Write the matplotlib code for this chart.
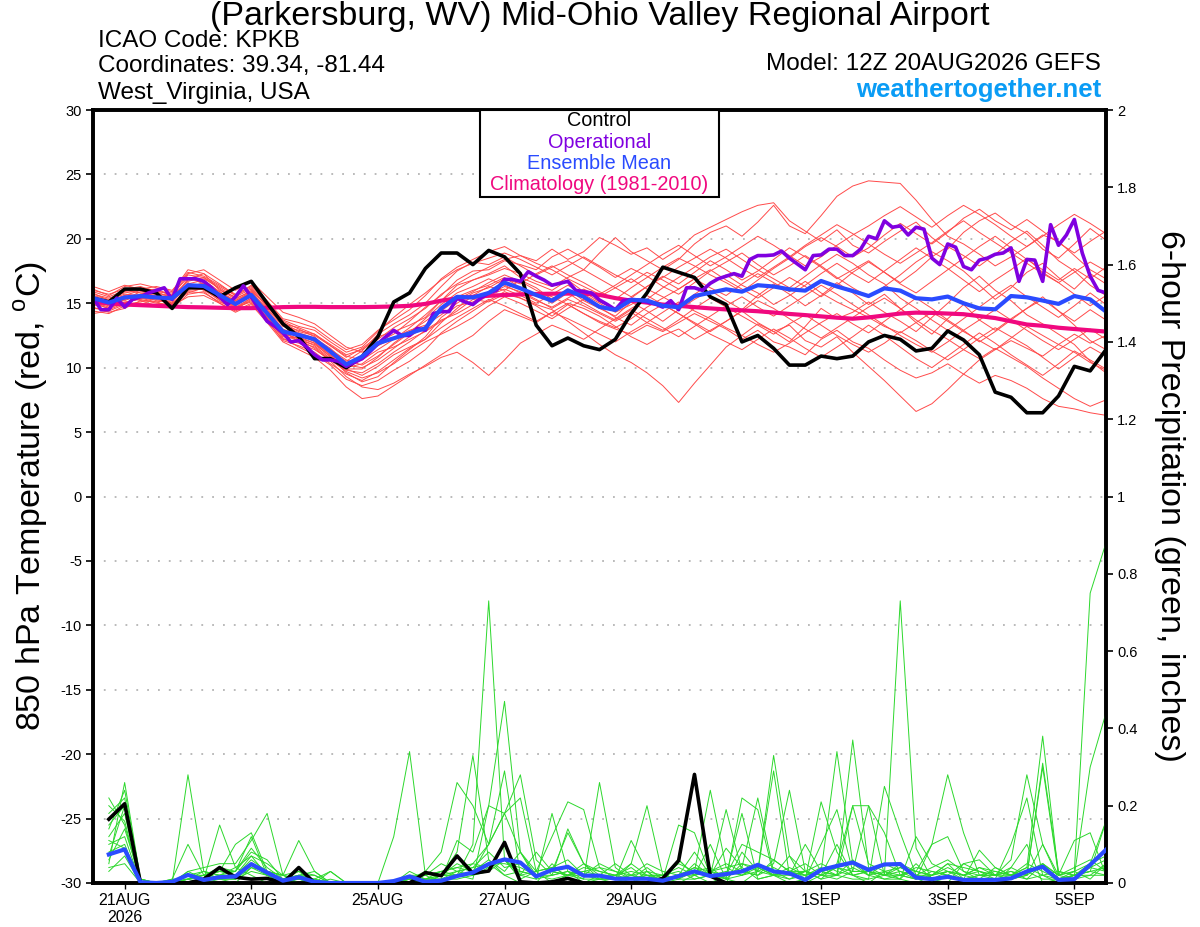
import numpy as np
import matplotlib
matplotlib.use("Agg")
import matplotlib.pyplot as plt
from matplotlib.patches import Rectangle

plt.rcParams['font.family'] = ['Liberation Sans', 'DejaVu Sans']
plt.rcParams['mathtext.fontset'] = 'custom'
plt.rcParams['mathtext.rm'] = 'Liberation Sans'

# time axis: hours after 12Z 20AUG2026
hours_6h = np.arange(0, 385, 6)
hours_3h = np.arange(0, 385, 3)
hours_pcp = hours_6h[1:]

tick_hours = [12, 60, 108, 156, 204, 276, 324, 372]
tick_labels = ['21AUG\n2026', '23AUG', '25AUG', '27AUG', '29AUG', '1SEP', '3SEP', '5SEP']

# 850 hPa temperature (C)
control_t = [15.4, 15.1, 16.1, 16.1, 15.8, 14.6, 16.2, 16.2, 15.5, 16.2, 16.7,
             15.0, 13.4, 12.4, 10.7, 10.7, 10.0, 10.85, 12.4, 15.1, 15.8,
             17.7, 18.9, 18.9, 18.0, 19.1, 18.6, 17.3, 13.3, 11.7, 12.3, 11.7, 11.4,
             12.2, 14.2, 15.8, 17.8, 17.4, 17.0, 15.5, 14.9, 12.0, 12.5, 11.5, 10.2, 10.2, 10.9, 10.7, 10.9,
             12.0, 12.5, 12.2, 11.3, 11.5, 12.85, 12.15, 11.0, 8.1, 7.7, 6.5, 6.5, 7.8, 10.1, 9.75, 11.4]

mean_t = [15.4, 15.05, 15.45, 15.56, 15.45, 15.38, 16.4, 16.34, 15.64, 14.94, 15.64,
          14.22, 12.8, 12.54, 12.2, 11.25, 10.25, 10.86, 11.9, 12.28, 12.67,
          13.06, 14.6, 15.5, 15.45, 15.8, 16.6, 16.16, 15.64, 15.2, 16.0, 15.5, 14.72,
          14.48, 15.26, 15.21, 14.8, 14.69, 15.56, 15.82, 16.08, 15.9, 16.4, 16.3, 16.08, 15.98, 16.73, 16.3, 15.95,
          15.56, 16.16, 15.98, 15.39, 15.3, 15.52, 15.0, 14.6, 14.53, 15.56, 15.46, 15.21, 14.95, 15.56, 15.3, 14.35]

clim_t = [15.1, 15.0, 14.9, 14.85, 14.8, 14.75, 14.7, 14.68, 14.65, 14.62, 14.62,
          14.65, 14.7, 14.72, 14.72, 14.7, 14.7, 14.7, 14.72, 14.75, 14.8,
          14.95, 15.2, 15.38, 15.5, 15.58, 15.64, 15.68, 15.72, 15.74, 15.75, 15.75, 15.65,
          15.4, 15.2, 15.05, 14.9, 14.8, 14.7, 14.6, 14.52, 14.45, 14.38, 14.28, 14.17, 14.08, 13.98, 13.88, 13.8,
          13.9, 14.05, 14.2, 14.27, 14.25, 14.2, 14.15, 14.0, 13.85, 13.6, 13.35, 13.25, 13.1, 13.0, 12.9, 12.8]

# operational run, 3-hourly
oper_t = [15.46, 14.5, 14.5, 15.4, 14.7, 15.3, 15.5, 15.8, 16.0, 16.2, 15.3, 16.9, 16.9, 16.9, 16.7, 16.2,
          15.5, 14.9, 15.5, 16.35, 15.5, 14.5, 13.6, 13.2, 12.7, 12.0, 12.1, 11.6, 11.0, 10.6, 10.6, 10.5, 10.1,
          10.4, 10.7, 11.25, 11.85, 12.4, 12.9, 12.5, 12.5, 13.05, 12.9, 14.2, 14.35, 14.35, 15.4, 15.1,
          14.9, 15.4, 15.8, 16.0, 16.85, 16.85, 16.7, 17.45, 17.1, 16.8, 16.4, 16.55, 16.7, 16.0, 15.9, 15.8, 15.25,
          14.9, 14.5, 15.2, 15.3, 15.25, 15.1, 14.95, 14.7, 15.2, 14.5, 16.2, 16.2, 16.0, 16.55, 16.9, 17.1,
          17.3, 17.1, 18.4, 18.7, 18.7, 18.75, 19.05, 18.5, 18.05, 17.6, 18.7, 18.75, 19.2, 19.2, 18.7, 18.7,
          19.2, 20.2, 20.0, 21.4, 20.9, 21.0, 20.3, 20.9, 20.75, 18.5, 18.0, 19.6, 19.35, 17.85, 17.6, 18.35,
          18.5, 18.8, 18.9, 19.3, 16.7, 18.4, 18.35, 16.7, 21.1, 19.5, 20.3, 21.5, 18.9, 17.1, 16.0, 15.8]

member_t = [
    [15.8, 15.2, 15.9, 16.2, 16.0, 15.6, 17.2, 17.0, 16.1, 15.3, 16.0,
     14.8, 13.6, 13.0, 12.4, 11.2, 10.5, 11.3, 12.6, 13.4, 14.1,
     15.0, 16.3, 17.5, 18.2, 18.0, 18.6, 17.9, 17.2, 17.8, 18.3, 17.6, 18.9,
     20.1, 19.0, 18.3, 17.6, 18.4, 19.6, 20.5, 21.0, 20.2, 21.3, 22.6, 21.0, 20.4, 21.8, 23.3, 24.1,
     24.5, 24.4, 24.3, 23.0, 21.5, 20.2, 19.6, 18.8, 17.9, 18.6, 19.4, 20.3, 19.8, 18.7, 17.6, 16.9],
    [15.0, 14.6, 15.1, 15.3, 15.0, 14.9, 16.1, 16.3, 15.4, 14.6, 15.2,
     13.8, 12.3, 11.6, 11.0, 10.2, 9.1, 8.6, 9.0, 9.8, 10.5,
     11.4, 12.7, 13.6, 14.4, 15.2, 15.9, 15.4, 14.8, 14.0, 14.9, 14.2, 13.5,
     13.0, 12.6, 13.3, 12.8, 13.5, 14.2, 13.6, 13.0, 12.2, 12.9, 12.0, 11.6, 11.0, 12.2, 12.9, 12.0,
     11.5, 10.6, 9.8, 9.2, 9.6, 10.3, 9.5, 8.8, 9.4, 9.0, 8.4, 7.6, 7.0, 6.8, 6.5, 6.3],
    [14.4, 14.2, 14.8, 15.0, 14.9, 14.6, 15.7, 15.9, 15.0, 14.3, 14.9,
     13.5, 12.0, 11.4, 10.8, 9.8, 8.5, 7.6, 7.8, 8.6, 9.4,
     10.2, 11.0, 11.8, 12.5, 13.6, 14.5, 14.0, 13.5, 14.3, 15.0, 14.6, 14.0,
     13.2, 12.4, 11.8, 12.5, 13.0, 12.2, 12.9, 13.6, 14.4, 13.5, 12.8, 13.3, 12.1, 11.6, 12.4, 11.2,
     10.1, 9.0, 7.8, 6.6, 7.2, 8.3, 9.5, 10.6, 11.4, 12.1, 11.5, 10.9, 11.8, 12.6, 11.9, 12.5],
    [15.6, 15.3, 15.7, 15.6, 15.2, 15.1, 16.6, 16.0, 15.3, 14.8, 15.6,
     14.0, 12.5, 12.1, 11.8, 10.9, 10.0, 10.3, 11.2, 11.6, 12.2,
     12.8, 13.6, 14.4, 15.3, 15.1, 15.7, 15.4, 14.9, 14.5, 13.6, 12.7, 11.8,
     11.0, 10.4, 9.6, 8.6, 7.3, 8.8, 10.2, 11.6, 12.5, 13.4, 12.8, 12.0, 13.2, 14.6, 13.8, 14.3,
     15.1, 14.3, 13.6, 12.8, 13.9, 15.0, 16.2, 17.1, 16.0, 15.2, 14.1, 13.4, 12.6, 11.8, 10.5, 9.6],
    [16.1, 15.6, 16.3, 16.5, 16.2, 15.9, 17.6, 17.3, 16.5, 15.6, 16.4,
     15.2, 13.8, 13.5, 13.1, 12.2, 11.4, 11.8, 12.9, 13.7, 14.5,
     15.6, 16.9, 17.8, 18.4, 19.0, 19.4, 18.7, 18.3, 19.2, 18.4, 19.0, 20.1,
     19.5, 18.8, 19.3, 18.4, 19.2, 20.3, 20.9, 21.5, 22.1, 22.6, 22.8, 21.4, 20.6, 19.8, 20.7, 19.5,
     18.9, 19.8, 20.6, 21.3, 20.1, 19.2, 20.5, 21.4, 22.0, 21.1, 20.4, 19.2, 18.5, 19.6, 20.8, 19.9],
    [14.8, 14.9, 15.4, 15.7, 15.8, 15.5, 16.5, 16.8, 15.9, 15.1, 15.8,
     14.6, 13.2, 12.9, 12.6, 11.7, 10.8, 11.5, 12.4, 12.8, 13.3,
     13.9, 15.2, 16.4, 16.8, 17.3, 17.9, 17.0, 16.5, 16.0, 16.8, 15.9, 15.1,
     14.6, 15.4, 16.3, 17.1, 16.5, 17.4, 18.3, 17.6, 16.8, 17.5, 18.4, 19.3, 18.6, 17.8, 16.9, 17.6,
     18.3, 17.4, 16.6, 17.5, 18.6, 19.4, 18.7, 17.9, 18.8, 19.8, 20.6, 19.5, 18.3, 17.5, 16.4, 15.6],
    [15.2, 14.8, 15.3, 15.9, 15.7, 15.2, 16.2, 16.6, 15.8, 15.0, 15.7,
     14.3, 12.9, 12.6, 12.0, 11.0, 9.9, 9.4, 10.1, 11.0, 11.6,
     12.2, 13.5, 14.6, 15.6, 16.3, 16.0, 16.8, 16.2, 15.3, 16.1, 15.2, 14.6,
     14.0, 15.1, 14.4, 13.6, 14.5, 15.3, 16.0, 15.2, 14.5, 15.6, 16.5, 15.7, 14.8, 15.6, 16.6, 15.8,
     14.9, 15.7, 14.6, 13.5, 12.6, 13.8, 14.9, 13.7, 12.9, 13.8, 14.6, 15.5, 14.4, 13.3, 12.1, 11.4],
    [15.9, 15.5, 16.0, 15.8, 15.6, 15.7, 17.0, 16.5, 15.7, 15.2, 15.9,
     14.9, 13.3, 12.7, 12.3, 11.5, 10.4, 10.9, 12.0, 12.6, 13.6,
     14.7, 15.6, 16.8, 17.5, 17.6, 18.3, 18.0, 17.6, 18.6, 19.2, 18.5, 17.8,
     17.0, 17.7, 17.1, 16.3, 15.7, 16.6, 17.5, 18.2, 18.9, 18.0, 17.2, 17.9, 18.7, 17.9, 17.0, 16.2,
     15.5, 16.3, 17.2, 18.2, 19.0, 18.3, 17.5, 16.4, 15.3, 16.2, 17.4, 18.1, 17.0, 16.1, 17.3, 16.5],
    [14.6, 14.5, 15.0, 15.4, 15.3, 15.0, 16.0, 16.1, 15.2, 14.5, 15.3,
     13.6, 12.2, 11.9, 11.4, 10.6, 9.7, 9.2, 9.6, 10.3, 11.2,
     12.0, 12.6, 13.2, 13.9, 14.8, 15.5, 15.0, 14.4, 13.8, 14.6, 15.3, 14.7,
     13.9, 13.3, 14.2, 14.9, 14.2, 13.4, 12.6, 12.0, 11.4, 12.2, 13.0, 12.3, 11.5, 10.8, 11.6, 12.4,
     13.3, 12.5, 11.6, 10.7, 10.0, 10.9, 11.8, 12.7, 11.9, 11.0, 10.2, 9.4, 10.3, 11.3, 10.6, 9.9],
    [15.3, 14.9, 15.5, 15.4, 15.1, 15.3, 16.3, 16.2, 15.5, 14.9, 15.5,
     14.1, 12.7, 12.2, 11.5, 10.5, 9.3, 8.5, 8.3, 8.8, 9.5,
     10.1, 10.8, 11.2, 10.4, 9.4, 10.6, 11.9, 12.6, 13.3, 12.8, 12.2, 13.0,
     13.8, 14.6, 15.3, 16.2, 17.0, 17.8, 18.6, 19.2, 18.4, 17.6, 16.9, 16.2, 17.1, 18.0, 18.8, 18.1,
     17.2, 16.5, 15.4, 14.6, 13.7, 12.9, 13.8, 14.7, 15.6, 16.4, 15.5, 14.7, 13.9, 14.8, 15.8, 14.9],
    [16.0, 15.7, 16.1, 16.3, 15.9, 15.8, 17.3, 17.6, 16.8, 16.0, 16.7,
     15.5, 14.3, 13.9, 13.4, 12.5, 11.6, 11.2, 11.7, 12.3, 12.9,
     13.3, 14.1, 15.0, 15.8, 16.2, 16.9, 16.5, 17.3, 17.9, 17.2, 16.6, 15.9,
     15.3, 16.2, 17.0, 17.8, 18.5, 17.9, 17.2, 16.6, 15.9, 16.8, 17.7, 18.5, 19.4, 20.1, 19.4, 18.6,
     19.3, 20.3, 21.2, 20.4, 19.6, 20.5, 21.6, 22.3, 21.4, 20.7, 21.5, 20.6, 19.7, 18.9, 19.8, 20.6],
    [14.9, 15.1, 15.6, 15.2, 14.8, 15.0, 15.8, 16.2, 15.6, 14.7, 15.1,
     13.9, 12.6, 12.3, 11.9, 11.0, 10.2, 10.0, 10.6, 11.5, 12.4,
     13.2, 14.4, 15.3, 15.9, 16.6, 17.2, 16.7, 16.0, 15.5, 14.9, 14.2, 13.6,
     13.1, 13.8, 14.7, 15.4, 16.1, 16.9, 16.2, 15.6, 16.5, 17.3, 16.6, 15.9, 16.7, 15.8, 15.1, 14.5,
     13.9, 13.2, 12.7, 13.5, 14.3, 13.6, 12.8, 12.1, 11.4, 12.3, 13.2, 12.5, 11.8, 11.2, 10.4, 9.8],
    [15.5, 15.0, 15.2, 15.7, 15.9, 15.4, 16.8, 16.9, 16.2, 15.4, 15.9,
     14.5, 13.0, 12.5, 12.2, 11.4, 10.6, 10.2, 10.9, 11.8, 12.7,
     13.8, 14.9, 15.8, 16.3, 16.9, 16.4, 15.8, 15.2, 14.7, 15.4, 16.1, 15.5,
     16.2, 16.9, 16.1, 15.5, 14.8, 15.7, 16.5, 17.2, 16.4, 15.8, 14.9, 15.6, 16.4, 17.3, 18.1, 17.3,
     16.6, 17.5, 18.4, 19.3, 18.5, 17.7, 16.8, 15.9, 16.8, 17.6, 18.5, 17.4, 16.6, 15.7, 14.8, 15.6],
    [15.1, 14.7, 15.0, 15.5, 15.6, 15.3, 16.4, 16.5, 15.9, 15.2, 15.8,
     14.4, 12.8, 12.4, 11.9, 10.8, 9.6, 8.9, 9.3, 10.4, 11.4,
     12.4, 13.9, 14.8, 15.1, 15.7, 16.3, 15.9, 15.3, 14.6, 15.3, 14.8, 14.2,
     13.6, 14.3, 13.5, 12.9, 13.7, 14.6, 15.4, 14.7, 14.0, 13.3, 12.6, 13.4, 14.1, 13.3, 12.5, 11.8,
     11.2, 11.9, 12.8, 12.1, 11.3, 10.6, 11.4, 12.3, 13.1, 12.4, 11.7, 10.8, 9.9, 10.8, 11.6, 10.9],
    [16.3, 15.9, 16.4, 16.1, 16.3, 16.0, 17.4, 17.1, 16.4, 15.7, 16.3,
     15.0, 13.7, 13.2, 12.9, 12.0, 11.2, 11.6, 12.8, 13.9, 14.9,
     15.8, 16.8, 17.6, 18.1, 18.5, 18.9, 18.4, 17.8, 17.2, 17.9, 18.6, 17.9,
     17.2, 16.6, 17.4, 16.8, 16.1, 16.9, 17.6, 16.8, 16.1, 15.4, 16.2, 17.0, 16.3, 15.5, 16.4, 17.4,
     18.2, 17.4, 16.5, 15.8, 16.7, 17.6, 18.5, 19.4, 20.2, 19.3, 18.4, 17.6, 16.8, 17.7, 16.9, 17.8],
    [14.2, 14.4, 14.9, 15.1, 15.4, 14.8, 15.5, 15.6, 15.0, 14.4, 15.0,
     13.7, 12.1, 11.7, 11.2, 10.3, 9.5, 9.0, 9.7, 10.6, 11.5,
     12.2, 13.1, 13.9, 14.6, 15.3, 14.8, 14.2, 13.6, 14.3, 13.8, 13.2, 12.6,
     12.0, 12.8, 13.5, 14.3, 15.1, 14.4, 13.8, 13.1, 12.5, 11.8, 11.2, 11.9, 12.7, 13.5, 14.2, 13.4,
     12.7, 13.6, 14.5, 15.4, 14.6, 13.7, 12.9, 12.0, 12.8, 13.7, 14.6, 15.3, 14.4, 13.6, 14.5, 13.7],
    [15.7, 15.4, 15.8, 16.0, 15.5, 15.2, 16.9, 17.3, 16.0, 15.5, 16.1,
     14.7, 13.4, 13.1, 12.6, 11.8, 11.0, 11.4, 12.2, 13.1, 13.8,
     14.6, 15.7, 16.5, 17.2, 17.8, 18.4, 18.7, 18.1, 17.6, 16.9, 16.3, 15.7,
     16.4, 17.2, 18.0, 18.8, 19.5, 18.7, 17.9, 18.6, 19.4, 20.2, 19.5, 18.7, 17.9, 18.6, 19.5, 20.3,
     21.0, 21.8, 22.5, 21.7, 20.9, 21.8, 22.6, 21.9, 21.1, 20.2, 19.4, 20.2, 21.1, 21.9, 21.2, 20.4],
    [14.7, 14.3, 14.6, 15.2, 15.1, 14.7, 15.9, 15.8, 15.1, 14.6, 15.4,
     14.2, 12.9, 12.0, 11.6, 10.6, 9.8, 9.6, 10.3, 11.2, 12.0,
     12.9, 13.7, 14.2, 14.9, 15.6, 16.1, 15.6, 15.0, 15.7, 16.4, 15.7, 15.0,
     14.3, 14.9, 15.6, 14.9, 14.2, 13.5, 12.8, 13.6, 14.4, 15.2, 14.6, 13.8, 13.0, 12.3, 13.1, 13.9,
     14.7, 15.4, 14.6, 13.7, 12.9, 12.2, 11.4, 10.7, 11.5, 10.8, 10.1, 9.2, 8.4, 7.6, 7.0, 7.5],
    [15.4, 15.2, 15.6, 16.0, 16.1, 15.6, 16.7, 17.0, 16.3, 15.6, 16.2,
     14.8, 13.5, 12.8, 12.5, 11.7, 10.9, 10.6, 11.4, 12.2, 13.1,
     14.1, 15.2, 16.1, 16.8, 17.2, 17.7, 17.3, 16.7, 16.3, 17.0, 17.6, 16.9,
     16.2, 15.5, 16.3, 17.0, 17.8, 18.5, 19.2, 18.5, 17.7, 17.0, 17.8, 18.6, 19.5, 20.3, 21.1, 20.4,
     19.6, 18.8, 18.1, 18.9, 19.7, 20.6, 21.4, 20.5, 19.7, 18.9, 18.1, 17.3, 16.6, 17.4, 18.2, 17.5],
    [15.0, 14.6, 15.3, 15.5, 15.5, 15.0, 16.1, 16.4, 15.3, 14.7, 15.4,
     13.9, 12.4, 12.3, 11.7, 10.7, 9.9, 9.9, 10.8, 11.9, 12.8,
     13.6, 14.5, 15.5, 16.0, 16.4, 17.0, 16.2, 15.7, 15.0, 15.8, 15.0, 14.3,
     13.7, 14.5, 13.8, 13.1, 12.4, 13.2, 14.0, 14.8, 15.5, 14.7, 14.0, 14.8, 15.6, 16.4, 15.7, 14.9,
     14.1, 13.3, 12.5, 11.8, 11.2, 12.0, 12.9, 13.7, 14.5, 13.7, 12.9, 12.1, 11.4, 12.2, 13.0, 12.2],
]

# 6-hour precipitation (inches), first value at +6h
control_p = [0.165, 0.205, 0, 0, 0, 0, 0.01, 0.04, 0.015, 0.01, 0.012, 0, 0.04, 0, 0, 0,
             0, 0, 0, 0, 0.027, 0.019, 0.07, 0.025, 0.031, 0.105, 0.003, 0, 0.003, 0.012, 0, 0,
             0, 0, 0, 0.012, 0.058, 0.281, 0.018, 0, 0, 0, 0, 0, 0, 0, 0, 0,
             0, 0, 0, 0, 0, 0, 0, 0, 0, 0, 0, 0, 0, 0, 0, 0]

mean_p = [0.074, 0.087, 0.002, 0, 0.003, 0.021, 0.008, 0.015, 0.017, 0.049, 0.027, 0.006, 0.015, 0.003, 0, 0,
          0, 0, 0.005, 0.017, 0.003, 0.006, 0.018, 0.027, 0.049, 0.061, 0.053, 0.017, 0.034, 0.042, 0.019, 0.019,
          0.011, 0.011, 0.011, 0.006, 0.018, 0.03, 0.018, 0.023, 0.03, 0.047, 0.03, 0.025, 0.008, 0.034, 0.044, 0.053,
          0.034, 0.048, 0.049, 0.014, 0.01, 0.016, 0.008, 0.008, 0.008, 0.012, 0.03, 0.042, 0.008, 0.01, 0.047, 0.086]

member_p = [
    [.12, .18, 0, 0, 0, .28, .03, .01, 0, .04, .02, 0, .01, 0, 0, 0,
     0, 0, 0, 0, 0, .02, .08, .33, .06, .02, 0, 0, .05, .01, 0, .02,
     .01, 0, .03, 0, .01, .05, .02, 0, .08, .03, .33, .07, 0, .02, .1, .02,
     0, .03, .01, 0, .02, .05, .01, 0, 0, .04, .1, 0, .01, .02, .05, .16],
    [.05, .26, .01, 0, 0, .02, .01, .15, .04, .02, 0, .01, 0, 0, .03, 0,
     0, 0, .12, .34, .02, 0, .02, .1, .73, .06, .01, .03, 0, .02, .05, .01,
     0, .01, .02, 0, 0, .02, .1, .01, 0, .03, .05, .24, .03, .01, .05, .2,
     .2, .02, .01, .05, .01, 0, .05, .06, .02, .01, .02, .3, .02, .11, .13, .02],
    [.22, .15, 0, 0, .01, .1, .02, .03, .1, .13, .03, .02, .11, .03, 0, 0,
     0, 0, 0, 0, .01, .03, .02, .01, .2, .47, .08, .01, .02, .03, .01, .26,
     .04, .01, 0, 0, .06, .02, 0, .02, .04, .01, .02, 0, .01, .21, .08, .02,
     .01, .25, .13, .02, .01, .03, .02, .01, .04, .02, .01, .05, .02, .03, .75, .88],
    [.08, .1, 0, 0, 0, .03, .04, .05, .05, .11, .18, .02, .03, 0, .01, 0,
     0, 0, 0, .01, .03, .08, .26, .2, .1, .29, .02, .01, .18, .03, 0, .01,
     .01, .11, .03, 0, .02, .08, .02, .09, .04, .22, .03, .01, .02, .03, .34, .05,
     .02, .01, .01, .12, .05, .03, .01, .02, .02, .06, .28, .1, .01, .01, .04, .03],
    [.15, .2, .01, 0, .01, .01, .02, .03, .03, .08, .06, .01, .02, .03, 0, 0,
     0, 0, 0, 0, 0, .01, .11, .08, .2, .18, .28, .06, .02, .14, .05, .03,
     .02, .05, .2, .02, .01, .03, .24, .04, .02, .03, .29, .02, .1, .03, .02, .37,
     .04, .02, .73, .09, .01, .02, .05, .03, .01, .1, .22, .02, 0, .02, .3, .44],
    [.03, .07, 0, 0, 0, .01, 0, .04, .02, .06, .03, .02, .01, 0, 0, 0,
     0, 0, 0, .02, .02, .03, .04, .03, .1, .18, .22, .03, .12, .21, .19, .04,
     .01, .02, .01, .01, .15, .13, .02, .19, .03, .02, .06, .03, .01, .1, .19, .03,
     .2, .13, .02, .01, .1, .28, .13, .02, .01, .02, .04, .38, .02, .01, .02, .05],
    [.18, .22, 0, 0, 0, .02, .03, .02, .01, .05, .02, 0, .02, .01, .03, 0,
     0, 0, 0, .03, .01, .01, .01, .02, .03, .06, .02, .08, .03, .13, .05, .02,
     .05, .02, .01, 0, .06, .02, .03, .01, .22, .19, .02, .07, .03, .02, .01, .03,
     .03, .01, .02, .03, .1, .12, .03, .01, 0, .01, .02, .31, .03, .02, .02, .02],
    [.06, .14, .01, 0, 0, .03, .01, .02, .03, .09, .04, .01, .03, .02, 0, 0,
     0, 0, 0, 0, 0, .02, .05, .03, .06, .03, .08, .02, .03, .02, .01, .01,
     .01, .05, .02, .02, .01, .01, .02, .02, .18, .01, .02, .03, .03, .01, .02, .01,
     .01, .02, .03, .01, .03, .02, .01, .085, .04, .02, .03, .01, .01, .03, .01, .05],
    [.1, .12, 0, 0, 0, .01, .02, .03, .02, .07, .05, .02, 0, .01, 0, 0,
     0, 0, 0, .01, .02, .05, .03, .04, .05, .02, .03, .02, .01, .02, .03, .04,
     .03, .01, .02, .02, .03, .01, .02, .01, .02, .04, .02, .01, .03, .02, .02, .2,
     .05, .03, .04, .02, .02, .03, .02, .04, .02, .03, .01, .02, .01, .02, .03, .16],
    [.2, .16, 0, 0, 0, .02, .02, .01, .01, .04, .03, .01, .01, 0, 0, 0,
     0, 0, 0, .02, .01, .02, .02, .05, .04, .06, .02, .03, .04, .02, .02, .02,
     .02, .01, .04, .01, .02, .02, .03, .05, .03, .02, .04, .02, .03, .05, .03, .02,
     .03, .02, .05, .03, .02, .05, .04, .03, .02, .03, .02, .05, .02, .03, .05, .07],
    [.14, .24, .01, 0, 0, .01, .02, .04, .03, .12, .02, .01, .02, 0, 0, 0,
     0, 0, 0, .01, .02, .03, .04, .05, .1, .18, .08, .03, .04, .06, .02, .05,
     .03, .02, .05, .03, .02, .04, .03, .02, .1, .08, .06, .03, .02, .04, .02, .06,
     .02, .05, .03, .02, .04, .06, .03, .02, .02, .04, .02, .1, .02, .04, .06, .03],
    [.04, .05, 0, 0, 0, 0, 0, .01, .01, .03, .02, .01, 0, 0, 0, 0,
     0, 0, 0, 0, .01, .01, .03, .02, .04, .06, .03, .02, .02, .03, .02, .01,
     .02, .04, .01, .02, .05, .03, .04, .01, .05, .04, .02, .03, .05, .02, .04, .03,
     .03, .02, .02, .04, .03, .02, .01, .02, .03, .02, .05, .03, .01, .02, .03, .02],
    [.11, .09, 0, 0, 0, .02, .01, .02, .02, .05, .03, .02, .01, .01, 0, 0,
     0, 0, 0, 0, .01, .02, .02, .03, .05, .05, .04, .02, .03, .02, .04, .03,
     .02, .03, .02, .01, .02, .04, .02, .03, .02, .05, .02, .04, .02, .03, .02, .04,
     .02, .03, .02, .01, .02, .04, .02, .03, .02, .02, .03, .05, .01, .02, .04, .06],
    [.07, .2, 0, 0, 0, .01, .03, .02, .04, .07, .02, .01, .02, .02, 0, 0,
     0, 0, 0, .01, 0, .02, .03, .04, .08, .04, .05, .02, .03, .02, .03, .02,
     .01, .02, .03, .02, .04, .02, .03, .04, .05, .03, .02, .02, .03, .02, .04, .02,
     .03, .02, .04, .03, .02, .03, .02, .04, .03, .02, .04, .02, .03, .02, .03, .04],
]

temp_ticks = list(range(-30, 31, 5))
pcp_ticks = [0, 0.2, 0.4, 0.6, 0.8, 1.0, 1.2, 1.4, 1.6, 1.8, 2.0]
pcp_tick_labels = ['0', '0.2', '0.4', '0.6', '0.8', '1', '1.2', '1.4', '1.6', '1.8', '2']

c_member_t = '#ff4a4a'
c_member_p = '#2cd82c'
c_control = 'black'
c_oper = '#8000e0'
c_mean = '#2a4bff'
c_clim = '#f0087f'

fig = plt.figure(figsize=(12, 9.27), dpi=100)
ax = fig.add_axes([93 / 1200, 44 / 927, 1013 / 1200, 773 / 927])
ax2 = ax.twinx()

for m in member_t:
    ax.plot(hours_6h, m, color=c_member_t, lw=0.7, zorder=2)
ax.plot(hours_6h, clim_t, color=c_clim, lw=3, zorder=3)
ax.plot(hours_6h, control_t, color=c_control, lw=2.6, zorder=4)
ax.plot(hours_3h, oper_t, color=c_oper, lw=2.6, zorder=5)
ax.plot(hours_6h, mean_t, color=c_mean, lw=3, zorder=6)

for m in member_p:
    ax2.plot(hours_pcp, m, color=c_member_p, lw=0.7, zorder=2)
ax2.plot(hours_pcp, control_p, color=c_control, lw=2.6, zorder=4)
ax2.plot(hours_pcp, mean_p, color=c_mean, lw=3, zorder=6)

ax.set_xlim(0, 384)
ax.set_ylim(-30, 30)
ax2.set_ylim(0, 2)

ax.set_yticks(temp_ticks)
ax.set_yticklabels([str(v) for v in temp_ticks])
ax2.set_yticks(pcp_ticks)
ax2.set_yticklabels(pcp_tick_labels)
ax.set_xticks(tick_hours)
ax.set_xticklabels(tick_labels)

ax.yaxis.grid(True, color='#b4b4b4', linestyle=(0, (1, 5)), lw=1.3)
ax.set_axisbelow(True)

ax.tick_params(axis='y', direction='out', length=5, width=1.2, labelsize=10.5, pad=3)
ax.tick_params(axis='x', direction='out', length=4, width=1.0, labelsize=11.5, pad=3)
ax2.tick_params(axis='y', direction='out', length=5, width=1.2, labelsize=10.5, pad=3)

for a in (ax, ax2):
    for s in a.spines.values():
        s.set_linewidth(2.6)
        s.set_color('black')

# legend box
ax2.add_patch(Rectangle((0.382, 0.8875), 0.236, 0.1125, transform=ax2.transAxes,
                        facecolor='white', edgecolor='black', lw=1.5, zorder=10))
legend_items = [('Control', c_control), ('Operational', c_oper),
                ('Ensemble Mean', c_mean), ('Climatology (1981-2010)', c_clim)]
for k, (txt, col) in enumerate(legend_items):
    ax2.text(0.5, 0.9858 - k * 0.0275, txt, color=col, fontsize=14.3, ha='center', va='center',
             transform=ax2.transAxes, zorder=11)

fig.text(0.5, 1 - 16 / 927, '(Parkersburg, WV) Mid-Ohio Valley Regional Airport',
         fontsize=24.5, ha='center', va='center')
fig.text(98 / 1200, 1 - 41 / 927, 'ICAO Code: KPKB', fontsize=17.5, ha='left', va='center')
fig.text(98 / 1200, 1 - 66 / 927, 'Coordinates: 39.34, -81.44', fontsize=17.5, ha='left', va='center')
fig.text(98 / 1200, 1 - 93 / 927, 'West_Virginia, USA', fontsize=17.5, ha='left', va='center')
fig.text(1101 / 1200, 1 - 64 / 927, 'Model: 12Z 20AUG2026 GEFS', fontsize=17.5, ha='right', va='center')
fig.text(1101 / 1200, 1 - 90 / 927, 'weathertogether.net', fontsize=18.5, fontweight='bold',
         color='#0a9cf5', ha='right', va='center')

fig.text(31 / 1200, 1 - 496 / 927, r'850 hPa Temperature (red, $^{\rm o}$C)', fontsize=24.5,
         rotation=90, ha='center', va='center')
fig.text(1170 / 1200, 1 - 496 / 927, '6-hour Precipitation (green, inches)', fontsize=24.5,
         rotation=270, ha='center', va='center')

fig.savefig('out.png', dpi=100)
